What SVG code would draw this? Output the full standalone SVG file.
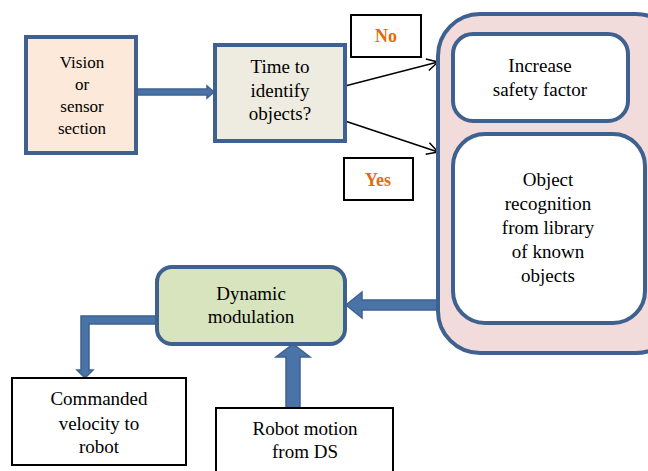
<svg xmlns="http://www.w3.org/2000/svg" width="648" height="471" viewBox="0 0 648 471">
<defs>
<style>
.n{stroke:#3e6190;stroke-width:4}
.b{fill:#fff;stroke:#000;stroke-width:2}
.t{font-family:'Liberation Serif',serif;font-size:19px;fill:#000;text-anchor:middle}
.s{font-size:17px}
.o{font-family:'Liberation Serif',serif;font-size:18px;font-weight:bold;fill:#e36c09;text-anchor:middle}
.ar{fill:#4a74a8;stroke:#3e6190;stroke-width:1.5}
</style>
<marker id="open" markerWidth="14" markerHeight="14" refX="12" refY="7" orient="auto" markerUnits="userSpaceOnUse">
<path d="M1,1 L12,7 L1,13" fill="none" stroke="#000" stroke-width="1.5"/>
</marker>
</defs>
<rect width="648" height="471" fill="#fff"/>
<g id="connectors">
<path class="ar" d="M137,89 L207,89 L207,86 L214,92 L207,98 L207,95 L137,95 Z"/>
<line x1="345" y1="86" x2="438" y2="62" stroke="#000" stroke-width="1.5" marker-end="url(#open)"/>
<line x1="345" y1="121" x2="438" y2="152" stroke="#000" stroke-width="1.5" marker-end="url(#open)"/>
<path class="ar" d="M437,300 L362,300 L362,292 L346,305 L362,318 L362,310 L437,310 Z"/>
<path class="ar" d="M156,316 L81,316 L81,370 L77,370 L85,378 L93,370 L89,370 L89,324 L156,324 Z"/>
<path class="ar" d="M286,408 L286,357 L276,357 L293,344 L310,357 L300,357 L300,408 Z"/>
</g>
<g id="vision"><rect class="n" x="26" y="37" width="110" height="116" fill="#fde9d9"/>
<text class="t s" x="82" y="68">Vision</text><text class="t s" x="82" y="90">or</text><text class="t s" x="82" y="112">sensor</text><text class="t s" x="82" y="134">section</text></g>
<g id="time"><rect class="n" x="215" y="45" width="130" height="96" fill="#eeece1"/>
<text class="t" x="280" y="73">Time to</text><text class="t" x="280" y="97">identify</text><text class="t" x="280" y="120">objects?</text></g>
<g id="no"><rect class="b" x="351" y="15" width="70" height="42"/><text class="o" x="386" y="42">No</text></g>
<g id="yes"><rect class="b" x="344" y="158" width="69" height="42"/><text class="o" x="378" y="186">Yes</text></g>
<g id="container"><rect class="n" x="438" y="14" width="240" height="339" rx="42" fill="#f2dcdb"/></g>
<g id="increase"><rect class="n" x="453" y="34" width="175" height="87" rx="20" fill="#fff"/>
<text class="t" x="540" y="72">Increase</text><text class="t" x="540" y="96">safety factor</text></g>
<g id="recognition"><rect class="n" x="453" y="134" width="192" height="189" rx="32" fill="#fff"/>
<text class="t" x="548" y="186">Object</text><text class="t" x="548" y="210">recognition</text><text class="t" x="548" y="234">from library</text><text class="t" x="548" y="258">of known</text><text class="t" x="548" y="282">objects</text></g>
<g id="dynamic"><rect class="n" x="157" y="267" width="188" height="77" rx="15" fill="#d7e4bd"/>
<text class="t" x="251" y="300">Dynamic</text><text class="t" x="251" y="323">modulation</text></g>
<g id="commanded"><rect class="b" x="12" y="378" width="174" height="87"/>
<text class="t" x="99" y="405">Commanded</text><text class="t" x="99" y="430">velocity to</text><text class="t" x="99" y="453">robot</text></g>
<g id="robotmotion"><rect class="b" x="216" y="408" width="177" height="70"/>
<text class="t" x="305" y="435">Robot motion</text><text class="t" x="305" y="458">from DS</text></g>
</svg>
